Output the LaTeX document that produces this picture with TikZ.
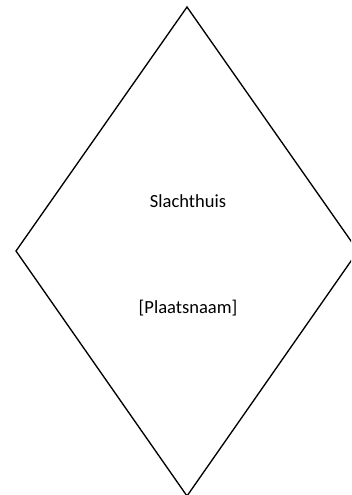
\documentclass[tikz,border=0pt]{standalone}
\usepackage{fontspec}
\setmainfont{Carlito}
\begin{document}
\begin{tikzpicture}[x=0.75pt,y=-0.75pt,
  shapeline/.style={draw=black,line width=1pt,line join=miter},
  label/.style={font=\fontsize{13.9}{16}\selectfont,text=black,inner sep=0pt}]
\useasboundingbox (0,0) rectangle (351,495);
\clip (0,0) rectangle (351,495);
\coordinate (top) at (187,7);
\coordinate (left) at (16,251);
\coordinate (bottom) at (187,496);
\coordinate (right) at (358,251);
\draw[shapeline] (top) -- (left) -- (bottom) -- (right) -- cycle;
\node[label] (name) at (188,201) {Slachthuis};
\node[label] (place) at (188,308) {[Plaatsnaam]};
\end{tikzpicture}
\end{document}
